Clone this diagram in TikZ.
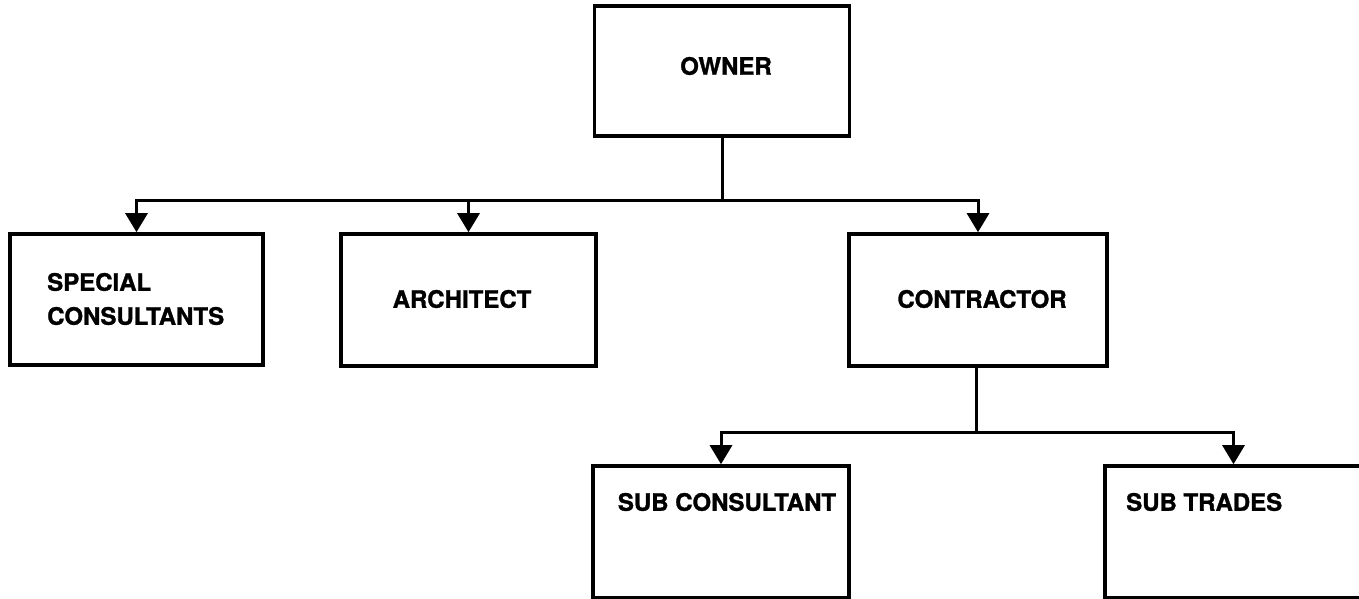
\documentclass[tikz,border=0pt]{standalone}
\usepackage{fontspec}
\setmainfont{TeX Gyre Heros}[BoldFeatures={FakeBold=1.3}]
\usetikzlibrary{arrows.meta}
\begin{document}
\begin{tikzpicture}[x=1pt,y=-1pt,
  box/.style={draw, line width=3.6pt, rectangle, inner sep=0pt},
  lbl/.style={font=\bfseries\fontsize{24}{34}\selectfont, inner sep=0pt},
  conn/.style={line width=3pt},
  arr/.style={conn, -{Triangle[length=19pt,width=22pt]}}]
\useasboundingbox[fill=white] (0,0) rectangle (1359,599);
% boxes
\node[box, minimum width=255pt, minimum height=130pt] (owner) at (722,71) {};
\node[box, minimum width=253pt, minimum height=131pt] (sc) at (136.5,299.5) {};
\node[box, minimum width=255pt, minimum height=132pt] (arch) at (468.5,300) {};
\node[box, minimum width=258pt, minimum height=132pt] (contr) at (978,300) {};
\node[box, minimum width=256pt, minimum height=132pt] (subc) at (721,532) {};
\node[box, minimum width=257pt, minimum height=132pt] (subt) at (1233.5,532) {};
% texts
\node[lbl] (tOwner) at (726,66) {OWNER};
\node[lbl, anchor=west, align=left] (tSc) at (47,299) {SPECIAL\\CONSULTANTS};
\node[lbl] (tArch) at (462,299) {ARCHITECT};
\node[lbl] (tContr) at (982,299) {CONTRACTOR};
\node[lbl] (tSubc) at (727,502) {SUB CONSULTANT};
\node[lbl, anchor=west] (tSubt) at (1126,502) {SUB TRADES};
% connectors
\path (owner.south) ++(0,63) coordinate (j1);
\coordinate (j2) at (976,432);
\draw[conn] (owner.south) -- (j1);
\draw[arr] (j1) -| (sc.north);
\draw[arr] (j1) -| (arch.north);
\draw[arr] (j1) -| (contr.north);
\draw[conn] (contr.south -| j2) -- (j2);
\draw[arr] (j2) -| (subc.north);
\draw[arr] (j2) -| (subt.north);
\end{tikzpicture}
\end{document}
